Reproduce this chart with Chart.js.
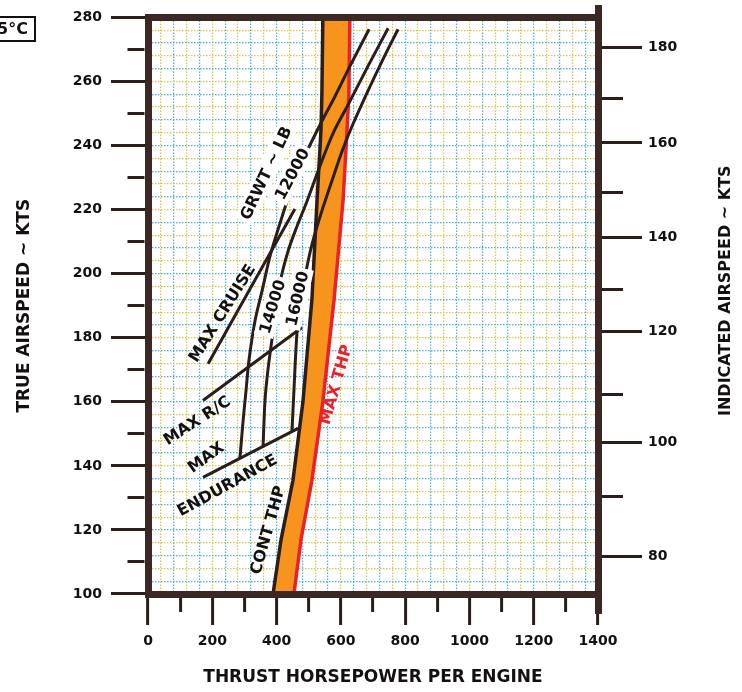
<!DOCTYPE html>
<html>
<head>
<meta charset="utf-8">
<script src="https://cdn.jsdelivr.net/npm/chart.js@4.4.1/dist/chart.umd.min.js"></script>
<style>
html,body{margin:0;padding:0;background:#ffffff;}
#wrap{position:relative;width:742px;height:692px;}
</style>
</head>
<body>
<div id="wrap"><canvas id="chart"></canvas></div>
<script>
// ---------------- data ----------------
const thpMin = 0, thpMax = 1400;
const tasMin = 100, tasMax = 280;

// indicated airspeed scale (right) : label and the true airspeed it sits at
const iasTickLabels = [80, 90, 100, 110, 120, 130, 140, 150, 160, 170, 180];
const iasTickTas = [111.8, 130.5, 147.3, 162.3, 181.9, 195.0, 211.2, 225.2, 240.8, 254.8, 270.7];

// power limits
const bandTas = [100, 117, 135.5, 160, 192, 223, 244.5, 256, 280];
const contThp = [389, 414, 451, 482, 510, 526, 538, 541, 544];
const maxThp  = [454, 476, 510, 544, 579, 607, 619, 625, 628];

// gross weight curves
const gw12000Thp = [286, 296, 305, 314, 333, 355, 380, 408, 436, 460, 495, 544, 582, 628, 688];
const gw12000Tas = [142.4, 154.2, 163.5, 172.9, 185.3, 194.7, 205.6, 214.9, 223.6, 230.5, 238.3, 248.2, 255.4, 264.7, 276.3];
const gw14000Thp = [358, 364, 373, 386, 411, 436, 464, 495, 535, 576, 628, 684, 747];
const gw14000Tas = [146.1, 160.4, 169.8, 179.7, 197.2, 207.1, 214.9, 222.7, 233.6, 243.9, 253.8, 264.7, 276.6];
const gw16000Thp = [448, 454, 464, 476, 492, 513, 541, 572, 604, 635, 684, 731, 778];
const gw16000Tas = [150.8, 163.5, 182.2, 191.6, 200.9, 210.2, 219.6, 228.9, 238.3, 246.1, 257.0, 266.9, 276.3];

// schedule lines
const maxCruiseThp = [187, 457];
const maxCruiseTas = [171.9, 220.2];
const maxRcThp = [171, 479];
const maxRcTas = [160.4, 183.2];
const maxEndThp = [171, 467];
const maxEndTas = [136.4, 151.7];

// ---------------- style ----------------
const FONT = '"DejaVu Sans", sans-serif';
const TEXT = '#151010';
const FRAME = '#3b2724';
const DARK = '#2a1d1a';
const ORANGE = '#f7941d';
const RED = '#e8212b';
const CLEAR = 'rgba(0,0,0,0)';
const GRID_A = 'rgba(70,170,215,0.95)';
const GRID_B = 'rgba(215,190,55,0.9)';

const annotations = [
  {text: 'MAX CRUISE', hp: 230, kts: 187.7, angle: -58, box: false},
  {text: 'GRWT ~ LB', hp: 367, kts: 231.4, angle: -65, box: true},
  {text: '12000', hp: 448, kts: 231.1, angle: -62, box: true},
  {text: '14000', hp: 387, kts: 189.7, angle: -73, box: true},
  {text: '16000', hp: 464, kts: 192.2, angle: -77, box: true},
  {text: 'MAX R/C', hp: 152, kts: 154.2, angle: -33, box: false},
  {text: 'MAX', hp: 180, kts: 142.7, angle: -36, box: false},
  {text: 'ENDURANCE', hp: 246, kts: 134.0, angle: -29, box: false},
  {text: 'CONT THP', hp: 372, kts: 120.0, angle: -74, box: false},
  {text: 'MAX THP', hp: 584, kts: 165.4, angle: -74, box: false, color: RED}
];

const pts = (xs, ys) => xs.map((v, i) => ({x: v, y: ys[i]}));
const curve = (label, xs, ys, color, width) => ({
  label, data: pts(xs, ys), borderColor: color, borderWidth: width,
  pointRadius: 0, tension: 0.3, fill: false, xAxisID: 'x', yAxisID: 'y'
});

const bandShape = pts(contThp, bandTas).concat(pts(maxThp, bandTas).reverse());

const datasets = [
  curve('12000', gw12000Thp, gw12000Tas, DARK, 3),
  curve('14000', gw14000Thp, gw14000Tas, DARK, 3),
  curve('16000', gw16000Thp, gw16000Tas, DARK, 3),
  curve('MAX CRUISE', maxCruiseThp, maxCruiseTas, DARK, 3),
  curve('MAX R/C', maxRcThp, maxRcTas, DARK, 3),
  curve('MAX ENDURANCE', maxEndThp, maxEndTas, DARK, 3),
  Object.assign(curve('CONT THP', contThp, bandTas, DARK, 3.5), {tension: 0}),
  Object.assign(curve('MAX THP', maxThp, bandTas, RED, 3.5), {tension: 0}),
  {label: 'band', data: bandShape, borderWidth: 0, borderColor: ORANGE, backgroundColor: ORANGE,
   fill: 'shape', pointRadius: 0, tension: 0, xAxisID: 'x', yAxisID: 'y'}
];

const decor = {
  id: 'decor',
  afterDatasetsDraw(chart) {
    const {ctx} = chart;
    const xs = chart.scales.x, ys = chart.scales.y;
    ctx.save();
    ctx.font = 'bold 16px ' + FONT;
    for (const a of annotations) {
      const px = xs.getPixelForValue(a.hp), py = ys.getPixelForValue(a.kts);
      ctx.save();
      ctx.translate(px, py);
      ctx.rotate(a.angle * Math.PI / 180);
      const w = ctx.measureText(a.text).width;
      if (a.box) {
        ctx.fillStyle = '#ffffff';
        ctx.fillRect(-w / 2 - 3, -10, w + 6, 20);
      }
      ctx.fillStyle = a.color || TEXT;
      ctx.textAlign = 'center';
      ctx.textBaseline = 'middle';
      ctx.fillText(a.text, 0, 1);
      ctx.restore();
    }
    ctx.restore();
  },
  afterDraw(chart) {
    const {ctx, chartArea} = chart;
    const r = chart.scales.y2;
    ctx.save();
    // right axis line runs a little beyond the frame
    ctx.strokeStyle = FRAME;
    ctx.lineWidth = 7;
    ctx.beginPath();
    ctx.moveTo(r.left + 0.5, 5);
    ctx.lineTo(r.left + 0.5, chartArea.top);
    ctx.moveTo(r.left + 0.5, chartArea.bottom);
    ctx.lineTo(r.left + 0.5, 614);
    ctx.stroke();
    // right axis title (reads bottom to top)
    ctx.save();
    ctx.translate(r.right - 16, (chartArea.top + chartArea.bottom) / 2 - 15);
    ctx.rotate(-Math.PI / 2);
    ctx.font = 'bold 16px ' + FONT;
    ctx.fillStyle = TEXT;
    ctx.textAlign = 'center';
    ctx.textBaseline = 'middle';
    ctx.fillText('INDICATED AIRSPEED ~ KTS', 0, 0);
    ctx.restore();
    // temperature box, top left
    ctx.lineWidth = 2;
    ctx.strokeStyle = TEXT;
    ctx.strokeRect(-3, 17, 38, 24);
    ctx.font = 'bold 16px ' + FONT;
    ctx.fillStyle = TEXT;
    ctx.textAlign = 'left';
    ctx.textBaseline = 'middle';
    ctx.fillText('5°C', -3, 30);
    ctx.restore();
  }
};

const tickFont = {family: FONT, size: 14, weight: 'bold'};
const titleFont = {family: FONT, size: 17, weight: 'bold'};

new Chart(document.getElementById('chart'), {
  type: 'line',
  data: {datasets},
  plugins: [decor],
  options: {
    responsive: true,
    maintainAspectRatio: false,
    animation: false,
    layout: {padding: 0},
    plugins: {legend: {display: false}, tooltip: {enabled: false}},
    events: [],
    scales: {
      x: {
        type: 'linear', position: 'bottom', min: thpMin, max: thpMax,
        afterFit: s => { s.height = 98; },
        ticks: {
          stepSize: 20, autoSkip: false, maxRotation: 0, padding: 8,
          color: TEXT, font: tickFont,
          callback: v => (v % 200 === 0 ? String(v) : '')
        },
        grid: {
          color: c => (c.tick && c.tick.value % 40 === 0 ? ((c.tick.value / 40) % 2 ? GRID_B : GRID_A) : CLEAR),
          lineWidth: 1.2,
          tickLength: 31, tickWidth: 3,
          tickColor: c => (c.tick && c.tick.value % 100 === 0 ? DARK : CLEAR),
          tickBorderDash: c => (c.tick && c.tick.value % 200 === 0 ? [] : [14, 200])
        },
        border: {display: true, width: 7, color: FRAME, dash: [1.5, 1.5], z: 1},
        title: {display: true, text: 'THRUST HORSEPOWER PER ENGINE', color: TEXT, font: titleFont,
                padding: {top: 0, bottom: 4}}
      },
      xTop: {
        type: 'linear', axis: 'x', position: 'top', min: thpMin, max: thpMax,
        afterFit: s => { s.height = 16; },
        ticks: {display: false},
        grid: {drawOnChartArea: false, drawTicks: false},
        border: {display: true, width: 7, color: FRAME, z: 1}
      },
      y: {
        type: 'linear', position: 'left', min: tasMin, max: tasMax,
        afterFit: s => { s.width = 148; },
        ticks: {
          stepSize: 2, autoSkip: false, padding: 9,
          color: TEXT, font: tickFont,
          callback: v => (v % 20 === 0 ? String(v) : '')
        },
        grid: {
          color: c => (c.tick && c.tick.value % 4 === 0 ? ((c.tick.value / 4) % 2 ? GRID_B : GRID_A) : CLEAR),
          lineWidth: 1.2,
          tickLength: 37, tickWidth: 3,
          tickColor: c => (c.tick && c.tick.value % 10 === 0 ? DARK : CLEAR),
          tickBorderDash: c => (c.tick && c.tick.value % 20 === 0 ? [] : [0, 16.5, 17, 200])
        },
        border: {display: true, width: 7, color: FRAME, dash: [1.5, 1.5], z: 1},
        title: {display: true, text: 'TRUE AIRSPEED ~ KTS', color: TEXT, font: titleFont,
                padding: {top: 14, bottom: 0}}
      },
      y2: {
        type: 'linear', axis: 'y', position: 'right', min: tasMin, max: tasMax,
        afterFit: s => { s.width = 144; },
        afterBuildTicks: s => { s.ticks = iasTickTas.map(v => ({value: v})); },
        ticks: {
          autoSkip: false, padding: 6, color: TEXT, font: tickFont,
          callback: (v, i) => (iasTickLabels[i] % 20 === 0 ? String(iasTickLabels[i]) : '')
        },
        grid: {
          drawOnChartArea: false, tickLength: 44, tickWidth: 3, tickColor: DARK,
          tickBorderDash: c => (iasTickLabels[c.index] % 20 === 0 ? [] : [21, 200])
        },
        border: {display: true, width: 7, color: FRAME, z: 1}
      }
    }
  }
});
</script>
</body>
</html>
